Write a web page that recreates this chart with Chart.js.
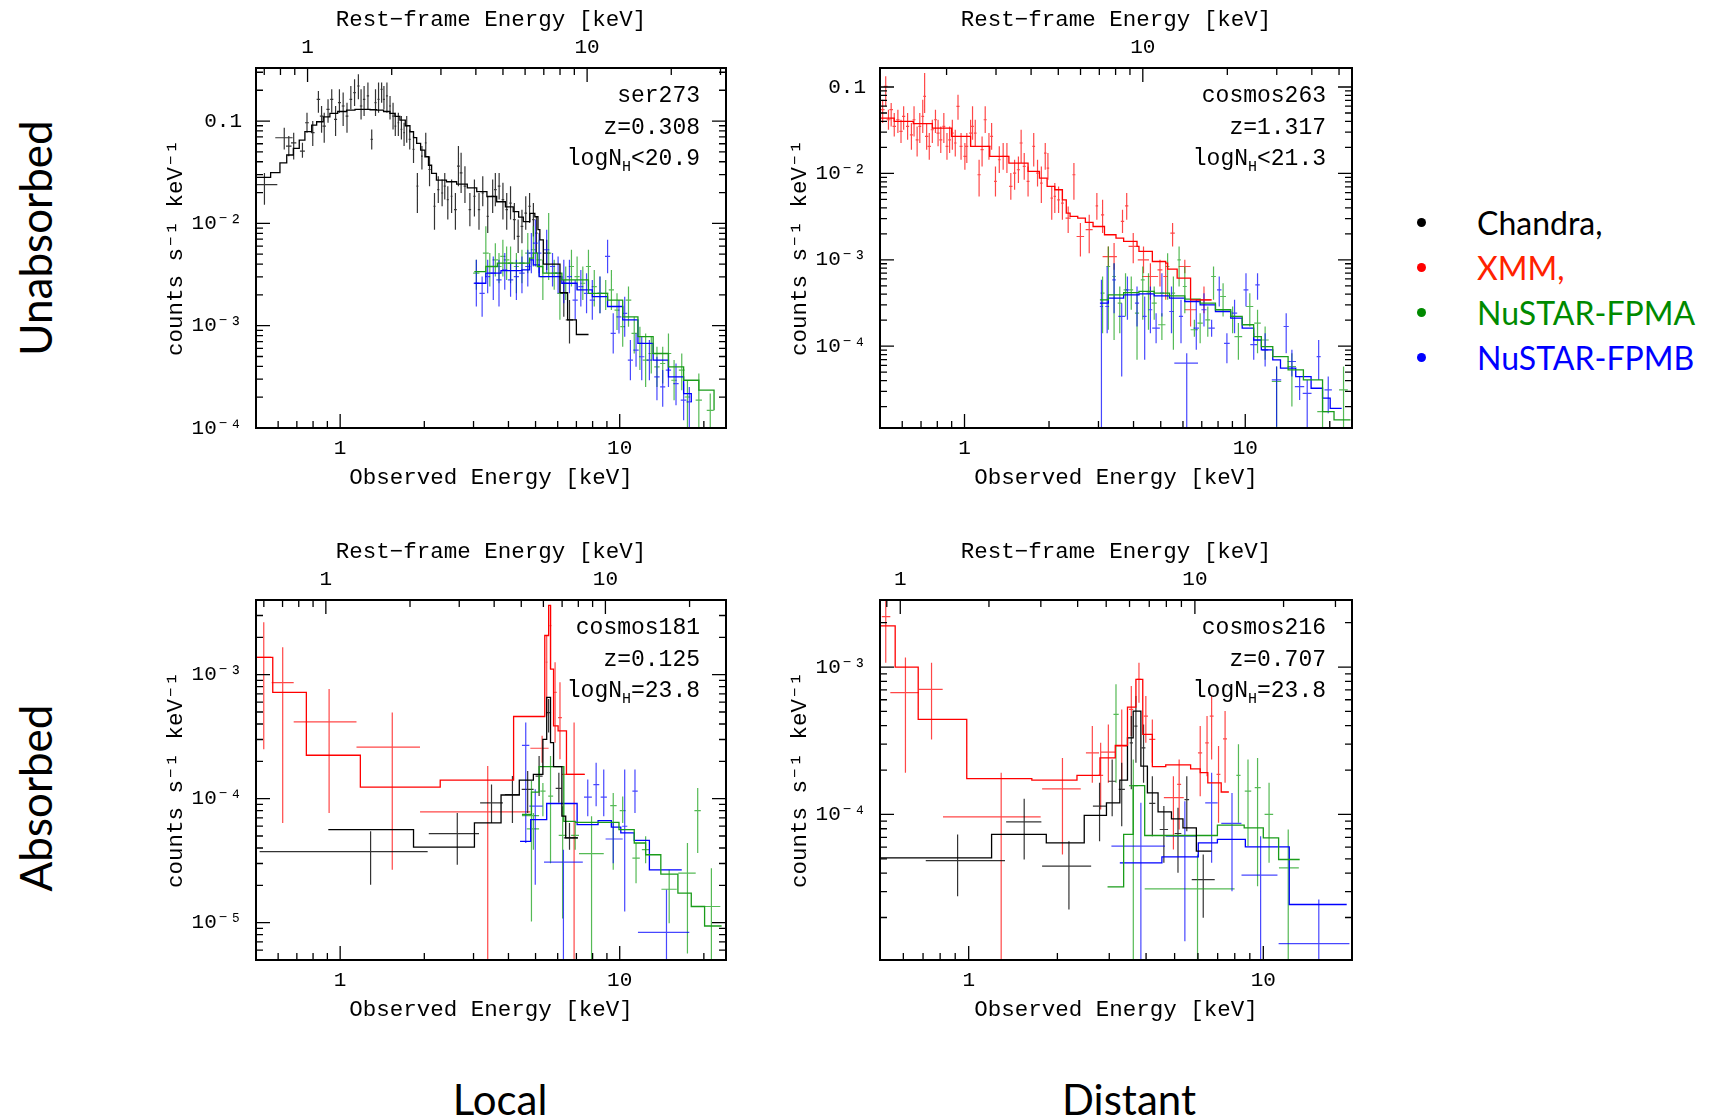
<!DOCTYPE html>
<html>
<head>
<meta charset="utf-8">
<title>X-ray spectra</title>
<script src="https://cdn.jsdelivr.net/npm/chart.js@4.4.1/dist/chart.umd.min.js"></script>
<style>
  body { margin: 0; background: #fff; }
  #page { position: relative; width: 1715px; height: 1120px; overflow: hidden; font-family: Lato, "Open Sans", sans-serif; color: #000; }
  canvas { position: absolute; }
  .row-label { position: absolute; font-size: 44px; white-space: nowrap; transform: translate(-50%, -50%) rotate(-90deg); }
  .col-label { position: absolute; font-size: 42px; white-space: nowrap; transform: translate(-50%, -50%); }
  #legend { position: absolute; left: 1410px; top: 200px; font-size: 32px; }
  #legend div { position: relative; height: 45px; line-height: 45px; padding-left: 67px; white-space: nowrap; }
  #legend span { position: absolute; left: 7px; top: 18px; width: 9px; height: 9px; border-radius: 50%; }
</style>
</head>
<body>
<div id="page">
  <canvas id="p1" width="610" height="498" style="left:146px;top:0px"></canvas>
  <canvas id="p2" width="612" height="498" style="left:770px;top:0px"></canvas>
  <canvas id="p3" width="610" height="498" style="left:146px;top:532px"></canvas>
  <canvas id="p4" width="612" height="498" style="left:770px;top:532px"></canvas>

  <div class="row-label" style="left:35px;top:238px">Unabsorbed</div>
  <div class="row-label" style="left:35px;top:798px">Absorbed</div>
  <div class="col-label" style="left:500px;top:1099px">Local</div>
  <div class="col-label" style="left:1129px;top:1099px">Distant</div>

  <div id="legend">
    <div style="color:#000"><span style="background:#000"></span>Chandra,</div>
    <div style="color:#ff2200"><span style="background:#ff0000"></span>XMM,</div>
    <div style="color:#008a00"><span style="background:#008a00"></span>NuSTAR-FPMA</div>
    <div style="color:#0000ff"><span style="background:#0000ff"></span>NuSTAR-FPMB</div>
  </div>
</div>

<script>
// ---- data ----
// points: [E, dE, counts, low, high] or [E, Elow, Ehigh, counts, low, high]
// models: [bin start E, counts], the last entry closes the last bin

const instruments = ['Chandra', 'XMM', 'NuSTAR-FPMA', 'NuSTAR-FPMB'];
const sourceNames = ['ser273', 'cosmos263', 'cosmos181', 'cosmos216'];
const redshifts = [0.308, 1.317, 0.125, 0.707];
const nhRelations = ['<', '<', '=', '='];
const nhValues = ['20.9', '21.3', '23.8', '23.8'];
const energyRanges = [[0.5, 24], [0.5, 24], [0.5, 24], [0.5, 20]];
const countRanges = [[1e-4, 0.33], [1.13e-5, 0.166], [5e-6, 4e-3], [1.03e-5, 2.85e-3]];
const labelledEnergies = [1, 10];

const ser273Chandra = [
  [0.536,0.06,0.0239,0.0152,0.0311],[0.631,0.045,0.0687,0.0528,0.086],[0.655,0.015,0.0569,0.0454,0.0713],
  [0.682,0.015,0.0613,0.0421,0.0769],[0.733,0.015,0.0508,0.0437,0.0613],[0.761,0.012,0.0963,0.0769,0.1207],
  [0.798,0.012,0.0769,0.0569,0.1],[0.836,0.012,0.1631,0.1207,0.197],[0.858,0.012,0.1119,0.0769,0.1403],
  [0.877,0.012,0.0893,0.0613,0.1207],[0.905,0.012,0.1301,0.0963,0.1631],[0.933,0.012,0.1631,0.1207,0.204],
  [0.963,0.012,0.1038,0.0713,0.1403],[0.994,0.012,0.1513,0.1207,0.204],[1.025,0.012,0.1403,0.0893,0.1896],
  [1.058,0.012,0.1119,0.0769,0.1513],[1.092,0.012,0.1631,0.1301,0.22],[1.126,0.012,0.1896,0.1403,0.256],
  [1.162,0.012,0.22,0.1631,0.287],[1.188,0.012,0.1403,0.1038,0.204],[1.218,0.012,0.1631,0.1119,0.22],
  [1.257,0.012,0.1759,0.1301,0.2375],[1.297,0.012,0.0661,0.0528,0.0829],[1.338,0.012,0.1513,0.1119,0.204],
  [1.372,0.012,0.1631,0.1207,0.2375],[1.407,0.012,0.204,0.1513,0.2375],[1.434,0.012,0.1631,0.1301,0.22],
  [1.47,0.012,0.1759,0.1207,0.2375],[1.508,0.012,0.1403,0.1038,0.1759],[1.546,0.012,0.1119,0.0829,0.1513],
  [1.575,0.012,0.0893,0.0713,0.1207],[1.615,0.012,0.0963,0.0713,0.1207],[1.656,0.012,0.0829,0.0661,0.1119],
  [1.693,0.012,0.0769,0.0569,0.0963],[1.73,0.012,0.0893,0.0613,0.1119],[1.774,0.015,0.0661,0.0528,0.0829],
  [1.83,0.015,0.0528,0.039,0.0713],[1.889,0.015,0.0231,0.0126,0.0311],[1.961,0.015,0.0454,0.0336,0.0569],
  [2.024,0.015,0.0613,0.0454,0.0769],[2.088,0.02,0.0336,0.0231,0.0454],[2.175,0.02,0.0147,0.00867,0.0198],
  [2.244,0.02,0.0214,0.0158,0.0289],[2.316,0.02,0.0198,0.0147,0.0268],[2.367,0.02,0.0231,0.0171,0.0311],
  [2.427,0.02,0.0171,0.0109,0.0231],[2.504,0.02,0.0184,0.0126,0.0268],[2.584,0.03,0.0136,0.00867,0.0198],
  [2.649,0.03,0.0362,0.0231,0.0569],[2.708,0.03,0.0311,0.0198,0.0489],[2.795,0.03,0.0231,0.0158,0.0362],
  [2.911,0.03,0.0136,0.00935,0.0198],[3.022,0.03,0.0184,0.0117,0.0268],[3.138,0.03,0.0136,0.00867,0.0198],
  [3.237,0.03,0.0198,0.0147,0.0289],[3.372,0.03,0.0117,0.00804,0.0184],[3.512,0.04,0.0184,0.0126,0.0268],
  [3.59,0.04,0.0214,0.0147,0.0311],[3.704,0.04,0.0231,0.0171,0.0311],[3.822,0.04,0.0171,0.0109,0.0249],
  [3.943,0.04,0.0136,0.00867,0.0198],[4.069,0.04,0.0158,0.0109,0.0231],[4.199,0.05,0.0109,0.00692,0.0158],
  [4.332,0.05,0.00746,0.00512,0.0109],[4.47,0.05,0.00935,0.00641,0.0136],[4.612,0.05,0.0126,0.00867,0.0184],
  [4.76,0.05,0.0147,0.0101,0.0198],[4.911,0.05,0.0109,0.00746,0.0158],[5.035,0.05,0.00804,0.00512,0.0117],
  [5.481,0.14,0.00512,0.00351,0.00692],[6.31,0.2,0.00207,0.00122,0.0028],[6.613,0.2,0.00114,0.000671,0.00178]
];
const ser273ChandraModel = [
  [0.499,0.0282],[0.564,0.0313],[0.609,0.0391],[0.644,0.0466],[0.68,0.054],[0.714,0.065],[0.748,0.0787],
  [0.791,0.0914],[0.824,0.0984],[0.87,0.11],[0.919,0.119],[0.98,0.124],[1.055,0.128],[1.13,0.13],[1.21,0.13],
  [1.28,0.129],[1.35,0.128],[1.43,0.124],[1.507,0.119],[1.57,0.111],[1.636,0.102],[1.71,0.09],[1.777,0.0786],
  [1.83,0.069],[1.878,0.0605],[1.94,0.052],[2.01,0.0448],[2.07,0.037],[2.124,0.0308],[2.21,0.0265],
  [2.4,0.0255],[2.61,0.0242],[2.85,0.0222],[3.08,0.0204],[3.35,0.0183],[3.63,0.01626],[3.9,0.0145],
  [4.16,0.013],[4.35,0.0115],[4.52,0.0104],[4.77,0.0125],[4.97,0.0116],[5.1,0.0087],[5.18,0.0069],
  [5.33,0.004],[6.114,0.0021],[6.511,0.00114],[6.998,0.00082],[7.735,0.00082]
];
const ser273FPMA = [
  [3.07,0.08,0.00326,0.00224,0.0044],[3.32,0.08,0.00512,0.00302,0.00935],[3.43,0.08,0.00379,0.00241,0.00512],
  [3.59,0.08,0.0044,0.00302,0.00641],[3.7,0.08,0.00379,0.0026,0.00512],[3.82,0.08,0.00475,0.00302,0.00692],
  [3.94,0.09,0.0044,0.0028,0.00595],[4.07,0.09,0.00408,0.0026,0.00595],[4.27,0.09,0.00379,0.00207,0.00512],
  [4.47,0.1,0.00408,0.0026,0.00552],[4.69,0.1,0.00512,0.00326,0.00804],[4.91,0.1,0.00552,0.00379,0.00935],
  [5.15,0.11,0.0044,0.00302,0.00692],[5.31,0.11,0.00302,0.00178,0.0044],[5.57,0.12,0.00512,0.0028,0.0126],
  [5.83,0.12,0.00326,0.00224,0.0044],[6.11,0.13,0.00207,0.00114,0.00302],[6.41,0.14,0.0026,0.00178,0.00379],
  [6.72,0.14,0.00379,0.00241,0.00552],[7.04,0.15,0.00302,0.00224,0.00475],[7.38,0.15,0.0026,0.00178,0.00379],
  [7.73,0.16,0.00379,0.00241,0.00552],[8.11,0.17,0.00241,0.00154,0.00351],[8.5,0.18,0.00207,0.00132,0.00302],
  [8.91,0.19,0.00207,0.00142,0.0028],[9.34,0.2,0.00224,0.00142,0.00351],[9.78,0.2,0.00142,0.000907,0.00207],
  [10.25,0.2,0.000978,0.000622,0.00154],[10.75,0.25,0.00178,0.000978,0.00241],[11.27,0.25,0.000841,0.000535,0.00122],
  [11.81,0.25,0.000671,0.000368,0.000978],[12.38,0.3,0.000461,0.000252,0.000841],[12.97,0.3,0.000535,0.000341,0.00078],
  [13.59,0.3,0.000396,0.000252,0.000622],[14.25,0.3,0.000427,0.000272,0.000622],[14.94,0.35,0.000535,0.000341,0.000841],
  [15.65,0.35,0.000293,0.000187,0.000461],[16.67,0.4,0.000368,0.000234,0.000535],[17.47,0.4,0.000201,0.000102,0.000293],
  [19.19,0.5,0.000187,0.0001,0.000341],[21.08,0.6,0.000149,0.0001,0.000217]
];
const ser273FPMAModel = [
  [3.02,0.00338],[3.32,0.00379],[3.65,0.00408],[4.54,0.00408],[4.76,0.00457],[4.91,0.00512],[5.07,0.00379],
  [5.31,0.00326],[6.21,0.0028],[7.73,0.00207],[9.05,0.00178],[10.25,0.00122],[11.62,0.00078],[13.17,0.000535],
  [14.94,0.000396],[16.93,0.000293],[19.19,0.000234],[21.75,0.000149]
];
const ser273FPMB = [
  [3.07,0.07,0.0026,0.00154,0.0044],[3.22,0.07,0.00207,0.00122,0.00302],[3.37,0.07,0.00302,0.00207,0.0044],
  [3.53,0.08,0.00326,0.00178,0.00475],[3.7,0.08,0.0028,0.00154,0.0044],[3.88,0.08,0.00351,0.00224,0.00512],
  [4.07,0.09,0.0028,0.00192,0.00408],[4.27,0.09,0.00302,0.00178,0.0044],[4.47,0.1,0.00326,0.00207,0.00475],
  [4.69,0.1,0.00379,0.00241,0.00552],[4.83,0.1,0.00512,0.00326,0.00804],[4.99,0.1,0.00641,0.00379,0.0109],
  [5.15,0.1,0.00512,0.00326,0.00804],[5.48,0.12,0.00552,0.00326,0.00867],[5.75,0.12,0.00379,0.00241,0.00512],
  [6.02,0.13,0.00326,0.00207,0.00475],[6.31,0.13,0.0026,0.00166,0.0044],[6.61,0.14,0.00302,0.00207,0.0044],
  [6.93,0.15,0.00178,0.00114,0.0028],[7.26,0.15,0.00241,0.00154,0.00351],[7.61,0.16,0.00207,0.00132,0.00326],
  [7.98,0.17,0.00178,0.00114,0.0028],[8.5,0.18,0.00207,0.00132,0.00302],[9.05,0.19,0.00475,0.00326,0.00692],
  [9.48,0.2,0.000841,0.000535,0.00132],[9.94,0.2,0.00122,0.000841,0.00178],[10.42,0.22,0.00132,0.00078,0.00192],
  [10.92,0.23,0.000461,0.000293,0.000724],[11.44,0.25,0.000577,0.000396,0.000841],[11.99,0.26,0.000497,0.000293,0.00078],
  [12.77,0.28,0.000461,0.000293,0.000724],[13.59,0.3,0.000316,0.000187,0.000497],[14.25,0.3,0.000252,0.000161,0.000368],
  [14.94,0.33,0.000368,0.000252,0.000535],[15.9,0.35,0.000272,0.000167,0.000427],[16.93,0.4,0.000187,0.000119,0.000272],
  [17.74,0.4,0.00018,0.0001,0.000252]
];
const ser273FPMBModel = [
  [3.02,0.0026],[3.32,0.00326],[3.76,0.00346],[4.47,0.00351],[4.76,0.0044],[4.91,0.00393],[5.15,0.00302],
  [6.21,0.0026],[7.04,0.00224],[7.98,0.00192],[9.05,0.00154],[10.25,0.00114],[11.62,0.000671],[13.17,0.000461],
  [14.94,0.000316],[16.93,0.000217],[18.03,0.00018]
];

const cosmos263XMM = [
  [0.511,0.008,0.0546,0.0383,0.0713],[0.524,0.008,0.1018,0.0597,0.1329],[0.536,0.008,0.0418,0.032,0.0546],
  [0.548,0.008,0.0546,0.035,0.0653],[0.562,0.008,0.035,0.0268,0.05],[0.579,0.008,0.0418,0.0293,0.0546],
  [0.594,0.008,0.0307,0.0225,0.0418],[0.607,0.008,0.0457,0.032,0.0597],[0.627,0.008,0.035,0.0245,0.05],
  [0.647,0.008,0.028,0.0188,0.0383],[0.661,0.008,0.0418,0.0268,0.0597],[0.678,0.008,0.0245,0.01574,0.035],
  [0.693,0.008,0.035,0.0225,0.05],[0.71,0.008,0.0457,0.0293,0.0713],[0.721,0.008,0.078,0.05,0.1453],
  [0.733,0.01,0.0268,0.0188,0.0383],[0.749,0.01,0.0206,0.0144,0.0293],[0.768,0.01,0.032,0.0225,0.0418],
  [0.788,0.01,0.0418,0.0293,0.0546],[0.805,0.01,0.0293,0.0206,0.0418],[0.823,0.01,0.0245,0.0172,0.035],
  [0.844,0.01,0.035,0.0225,0.05],[0.866,0.01,0.0206,0.0144,0.0293],[0.885,0.01,0.0245,0.0172,0.035],
  [0.905,0.01,0.0293,0.0188,0.0418],[0.927,0.01,0.0225,0.01574,0.032],[0.948,0.012,0.0597,0.0418,0.0815],
  [0.972,0.012,0.0206,0.0144,0.0293],[1.003,0.012,0.01574,0.01103,0.0225],[1.019,0.012,0.0206,0.01318,0.0293],
  [1.051,0.012,0.0293,0.0206,0.0418],[1.068,0.012,0.035,0.0245,0.0597],[1.092,0.012,0.0293,0.0206,0.0418],
  [1.127,0.015,0.00965,0.00541,0.0144],[1.155,0.015,0.0188,0.01205,0.0268],[1.185,0.015,0.0418,0.0293,0.0597],
  [1.222,0.015,0.0206,0.0144,0.0293],[1.249,0.015,0.0268,0.0188,0.0383],[1.289,0.015,0.00808,0.00541,0.01205],
  [1.33,0.015,0.0144,0.01009,0.0206],[1.373,0.015,0.01574,0.01103,0.0225],[1.416,0.015,0.01574,0.01009,0.0225],
  [1.462,0.02,0.00707,0.00495,0.01009],[1.508,0.02,0.01009,0.00647,0.0144],[1.556,0.02,0.01103,0.00773,0.01574],
  [1.591,0.02,0.0225,0.01318,0.032],[1.632,0.02,0.01205,0.00844,0.0172],[1.684,0.02,0.00808,0.00541,0.01205],
  [1.764,0.02,0.0206,0.01205,0.0293],[1.82,0.02,0.01009,0.00707,0.0144],[1.878,0.02,0.00773,0.00453,0.01205],
  [1.939,0.02,0.0172,0.01103,0.0225],[1.982,0.02,0.01153,0.00844,0.0172],[2.045,0.02,0.00518,0.0029,0.00707],
  [2.097,0.02,0.00541,0.00347,0.00773],[2.163,0.025,0.00495,0.00347,0.00707],[2.232,0.025,0.00453,0.0029,0.00647],
  [2.34,0.05,0.00304,0.00204,0.00415],[2.453,0.03,0.00965,0.00495,0.01318],[2.587,0.08,0.00186,0.00109,0.00266],
  [2.781,0.08,0.00223,0.00119,0.00332],[2.961,0.03,0.00422,0.0029,0.00592],[3.103,0.04,0.00332,0.00204,0.00495],
  [3.253,0.15,0.00109,0.000837,0.00143],[3.41,0.08,0.00109,0.000766,0.00156],[3.654,0.05,0.00278,0.00204,0.0038],
  [3.782,0.05,0.00422,0.0029,0.00592],[3.99,0.15,0.00143,0.000915,0.00204],[4.341,0.2,0.001,0.000701,0.00143],
  [4.594,0.3,0.000641,0.000344,0.000915],[4.969,0.1,0.000766,0.000491,0.001],[5.207,0.1,0.000641,0.000344,0.000915],
  [5.51,0.1,0.00204,0.00143,0.00266],[6.091,0.3,0.000837,0.000701,0.001],[6.386,0.3,0.000264,0.000169,0.000344],
  [7.128,0.45,0.000344,0.000241,0.000491]
];
const cosmos263XMMModel = [
  [0.5,0.0437],[0.5616,0.04],[0.657,0.0376],[0.768,0.0335],[0.899,0.0268],[1.051,0.0206],[1.23,0.01574],
  [1.439,0.01318],[1.684,0.01055],[1.849,0.00883],[1.969,0.00707],[2.097,0.00647],[2.232,0.00495],[2.304,0.00347],
  [2.377,0.00318],[2.531,0.00304],[2.695,0.00271],[2.87,0.00243],[3.152,0.00195],[3.464,0.00178],[3.688,0.00163],
  [4.116,0.00143],[4.182,0.00125],[4.667,0.000956],[5.207,0.000915],[5.29,0.000779],[5.721,0.000613],
  [6.386,0.000344],[7.589,0.000344]
];
const cosmos263FPMA = [
  [3.103,0.05,0.000411,0.000141,0.000641],[3.253,0.05,0.000837,0.000155,0.00143],[3.41,0.05,0.000641,0.000118,0.000915],
  [3.573,0.06,0.000315,0.000141,0.000491],[3.746,0.06,0.000449,0.000221,0.000701],[3.926,0.06,0.000449,0.000264,0.000641],
  [4.116,0.07,0.000241,0.0000695,0.000411],[4.314,0.07,0.000587,0.000202,0.000837],[4.522,0.07,0.000411,0.000155,0.000701],
  [4.739,0.1,0.000315,0.000202,0.000491],[5.047,0.15,0.000177,0.000118,0.000241],[5.29,0.08,0.000837,0.000344,0.00119],
  [5.546,0.08,0.000411,0.0000907,0.000641],[5.812,0.08,0.001,0.000491,0.00143],[6.091,0.1,0.000491,0.000241,0.000837],
  [6.588,0.2,0.000155,0.000129,0.000202],[6.908,0.15,0.000185,0.000108,0.000241],[7.354,0.15,0.000202,0.000129,0.000288],
  [7.709,0.15,0.000641,0.000344,0.000837],[8.337,0.2,0.000376,0.000221,0.000537],[9.016,0.2,0.000221,0.000141,0.000288],
  [9.452,0.3,0.000129,0.0000695,0.000185],[10.38,0.3,0.000288,0.000169,0.000411],[11.06,0.3,0.000185,0.000083,0.000264],
  [11.77,0.35,0.000118,0.0000695,0.000169],[12.93,0.5,0.000039,0.00001,0.0000582],[14.66,0.5,0.0000582,0.00002,0.000083],
  [18.85,0.8,0.0000175,0.00001,0.0000239],[22.39,0.8,0.0000312,0.00001,0.0000582]
];
const cosmos263FPMAModel = [
  [3.036,0.000344],[3.253,0.000393],[3.688,0.000418],[4.182,0.00043],[4.739,0.000411],[5.373,0.000383],
  [6.091,0.00035],[6.908,0.000315],[7.831,0.000264],[8.876,0.000221],[9.752,0.000177],[10.715,0.000129],
  [11.41,0.0000991],[12.53,0.0000759],[14.21,0.0000532],[16.11,0.0000407],[18.85,0.0000175],[20.71,0.000014],
  [23.7,0.000014]
];
const cosmos263FPMB = [
  [3.074,0.04,0.000288,0.00001,0.000587],[3.222,0.05,0.000288,0.000141,0.000837],[3.41,0.05,0.000587,0.000241,0.000915],
  [3.63,0.1,0.000221,0.0000445,0.000315],[3.805,0.06,0.000449,0.000202,0.000641],[4.116,0.07,0.000315,0.000169,0.000491],
  [4.383,0.07,0.000221,0.0000695,0.000376],[4.594,0.07,0.000264,0.000141,0.000491],[4.813,0.15,0.000162,0.000108,0.000241],
  [5.047,0.08,0.000411,0.000221,0.000701],[5.46,0.1,0.000252,0.000141,0.000491],[5.904,0.1,0.000221,0.000108,0.000344],
  [6.188,0.6,0.0000636,0.00001,0.000083],[6.692,0.15,0.000162,0.0000907,0.000344],[7.128,0.15,0.000264,0.000169,0.000411],
  [7.589,0.2,0.000162,0.000129,0.000202],[8.079,0.15,0.000449,0.000288,0.000641],[8.603,0.2,0.000108,0.0000636,0.000141],
  [9.16,0.2,0.000241,0.000141,0.000344],[10.06,0.2,0.000449,0.000288,0.000701],[10.72,0.3,0.000104,0.0000695,0.000141],
  [11.06,0.2,0.000513,0.000344,0.000701],[11.77,0.3,0.0000907,0.0000582,0.000141],[12.93,0.5,0.0000407,0.0000117,0.0000582],
  [13.99,0.3,0.000169,0.000083,0.000241],[14.66,0.5,0.0000665,0.0000445,0.0000907],[15.62,0.6,0.0000341,0.0000239,0.0000445],
  [16.62,0.6,0.0000285,0.00001,0.0000407],[18.26,0.3,0.0000759,0.0000407,0.000118],[19.75,0.6,0.0000312,0.0000167,0.0000445]
];
const cosmos263FPMBModel = [
  [3.036,0.000315],[3.253,0.00036],[3.688,0.000393],[4.182,0.000404],[4.739,0.000383],[5.373,0.00036],
  [6.091,0.000329],[6.908,0.000301],[7.831,0.000252],[8.876,0.000211],[9.752,0.000162],[10.715,0.000118],
  [11.41,0.0000907],[12.53,0.0000695],[13.35,0.0000556],[15.13,0.0000445],[17.16,0.0000326],[18.85,0.000025],
  [20.07,0.0000191],[22.05,0.0000191]
];

const cosmos181Chandra = [
  [1.285,0.515,2.056,0.0000374,0.0000202,0.0000546],[2.624,2.075,3.138,0.0000523,0.0000293,0.0000768],
  [3.479,3.167,3.822,0.0000925,0.0000637,0.00013],[4.133,3.883,4.4,0.000108,0.0000637,0.000152],
  [4.686,4.46,4.92,0.000119,0.0000768,0.000167],[5.148,5.0,5.3,0.000152,0.000105,0.000221],
  [5.568,5.45,5.68,0.000495,0.000341,0.000635],[6.058,5.9,6.2,0.000121,0.0000925,0.000162],
  [6.613,6.31,7.085,0.0000482,0.0000388,0.0000637]
];
const cosmos181ChandraModel = [
  [0.907,0.0000563],[1.83,0.0000407],[3.022,0.0000637],[3.763,0.000107],[4.373,0.000141],[4.911,0.000157],
  [5.311,0.000301],[5.481,0.000655],[5.656,0.000283],[5.799,0.000181],[6.211,0.0000722],[6.41,0.0000482],
  [7.085,0.0000482]
];
const cosmos181XMM = [
  [0.533,0.499,0.566,0.00138,0.00025,0.00265],[0.623,0.569,0.682,0.000861,0.0000637,0.00166],
  [0.913,0.682,1.144,0.000416,0.0000768,0.000765],[1.536,1.144,1.931,0.00026,0.0000267,0.000495],
  [3.372,1.931,4.79,0.0000782,0.000001,0.000183],[5.277,4.79,5.568,0.000255,0.000195,0.000321],
  [5.481,5.44,5.52,0.00126,0.000466,0.00207],[5.656,5.61,5.7,0.00249,0.00111,0.00362],
  [5.872,5.8,5.95,0.000719,0.000283,0.00126],[6.114,6.02,6.21,0.000451,0.000208,0.000867],
  [6.868,6.211,7.495,0.000157,0.000001,0.000411]
];
const cosmos181XMMModel = [
  [0.499,0.00138],[0.574,0.000719],[0.757,0.000224],[1.181,0.000124],[2.28,0.000141],[4.173,0.00046],
  [5.395,0.00207],[5.568,0.00362],[5.656,0.00111],[5.799,0.000386],[6.02,0.000352],[6.45,0.000157],[7.495,0.000157]
];
const cosmos181FPMA = [
  [4.834,4.47,5.148,0.0000731,0.0000102,0.000139],[4.911,4.65,5.148,0.000057,0.0000388,0.0000768],
  [5.311,5.2,5.43,0.000115,0.0000722,0.000134],[5.656,5.55,5.78,0.000105,0.0000302,0.000221],
  [6.25,6.05,6.45,0.0000506,0.0000108,0.000087],[6.93,6.7,7.15,0.0000506,0.0000388,0.0000637],
  [7.93,7.152,8.768,0.000036,0.000001,0.0000722],[9.48,9.25,9.75,0.000088,0.0000267,0.000111],
  [10.25,10.0,10.5,0.0000802,0.0000637,0.000104],[11.44,11.1,11.8,0.0000332,0.0000208,0.0000439],
  [12.38,12.0,12.8,0.0000388,0.0000302,0.0000497],[15.03,14.1,16.0,0.0000186,0.0000099,0.0000267],
  [17.47,16.2,18.7,0.0000251,0.00000565,0.0000439],[19.01,18.5,19.5,0.0000802,0.0000364,0.000122],
  [21.28,19.8,22.9,0.0000135,0.000001,0.0000275]
];
const cosmos181FPMAModel = [
  [4.47,0.0000745],[4.834,0.000113],[5.148,0.000181],[6.31,0.0000657],[6.93,0.0000645],[9.94,0.0000563],
  [11.27,0.0000439],[12.38,0.0000353],[14.03,0.0000246],[16.15,0.0000173],[18.03,0.0000135],[20.12,0.0000094],
  [23.15,0.0000094]
];
const cosmos181FPMB = [
  [4.612,4.47,4.75,0.000269,0.0000439,0.000411],[4.988,4.75,5.3,0.000087,0.0000202,0.000119],
  [6.29,5.361,7.379,0.0000308,0.000001,0.0000388],[7.686,7.45,7.95,0.000103,0.0000722,0.000143],
  [8.235,8.05,8.45,0.00013,0.000087,0.000195],[8.768,8.55,9.0,0.000103,0.0000722,0.000172],
  [9.48,8.9,10.25,0.0000473,0.0000302,0.0000637],[10.42,10.2,10.65,0.0000599,0.0000123,0.000172],
  [11.34,11.1,11.6,0.000115,0.0000768,0.000172],[14.7,11.62,17.74,0.00000835,0.000001,0.0000184]
];
const cosmos181FPMBModel = [
  [4.4,0.0000453],[4.804,0.0000678],[5.481,0.0000914],[7.041,0.0000618],[8.366,0.0000665],[9.335,0.000059],
  [10.09,0.0000529],[11.27,0.0000461],[12.77,0.0000267],[16.67,0.0000267]
];

const cosmos216Chandra = [
  [0.917,0.715,1.328,0.0000487,0.0000279,0.0000732],[1.543,1.34,1.765,0.0000892,0.0000495,0.000128],
  [2.189,1.775,2.604,0.0000446,0.0000227,0.0000659],[2.781,2.64,2.93,0.000114,0.0000659,0.000164],
  [3.069,2.98,3.16,0.000168,0.0000974,0.000236],[3.307,3.23,3.39,0.000148,0.0000833,0.000224],
  [3.564,3.52,3.61,0.000306,0.000148,0.000465],[3.695,3.65,3.74,0.000398,0.000224,0.000636],
  [3.922,3.86,3.98,0.000283,0.000164,0.000408],[4.201,4.1,4.3,0.000119,0.0000713,0.000182],
  [4.597,4.45,4.75,0.0000791,0.000047,0.000114],[5.133,5.0,5.27,0.0000743,0.0000402,0.000111],
  [5.499,5.4,5.6,0.000126,0.000077,0.000182],[6.253,5.716,6.841,0.0000362,0.0000199,0.0000535]
];
const cosmos216ChandraModel = [
  [0.5,0.0000508],[1.196,0.0000732],[1.834,0.0000642],[2.467,0.0000985],[2.935,0.00012],[3.258,0.000171],
  [3.459,0.000331],[3.617,0.000503],[3.841,0.000213],[4.042,0.00014],[4.393,0.000104],[4.878,0.0000935],
  [5.337,0.0000812],[5.926,0.0000564],[6.677,0.0000564]
];
const cosmos216XMM = [
  [0.523,0.507,0.542,0.0022,0.00107,0.00281],[0.61,0.542,0.678,0.00067,0.000192,0.00116],
  [0.748,0.678,0.816,0.000705,0.000323,0.00107],[1.289,0.818,1.755,0.0000964,0.000001,0.000192],
  [2.081,1.775,2.401,0.000149,0.0000535,0.000242],[2.628,2.5,2.77,0.000262,0.000164,0.000398],
  [2.805,2.75,2.86,0.000184,0.000108,0.000306],[2.979,2.81,3.14,0.000265,0.000164,0.000408],
  [3.307,3.144,3.459,0.000291,0.000173,0.000516],[3.564,3.5,3.62,0.000516,0.00034,0.000743],
  [3.784,3.72,3.85,0.000825,0.000573,0.00107],[3.993,3.93,4.06,0.000465,0.000306,0.000636],
  [4.201,4.1,4.3,0.000323,0.000224,0.000441],[4.953,4.597,5.369,0.00013,0.0000579,0.000182],
  [5.18,5.1,5.26,0.00016,0.0000791,0.000236],[6.107,6.0,6.2,0.000262,0.000133,0.000398],
  [6.442,6.35,6.53,0.000306,0.000182,0.000465],[6.677,6.58,6.78,0.000465,0.000236,0.000636],
  [7.047,6.94,7.15,0.000187,0.0000878,0.000291],[7.417,7.3,7.53,0.000326,0.000164,0.000503]
];
const cosmos216XMMModel = [
  [0.5,0.0019],[0.563,0.001],[0.674,0.000441],[0.985,0.000175],[1.638,0.000171],[2.331,0.000184],
  [2.79,0.000242],[3.144,0.000294],[3.459,0.000535],[3.695,0.000825],[3.898,0.000349],[4.201,0.000211],
  [4.665,0.000217],[5.666,0.000204],[6.107,0.000192],[6.481,0.000164],[7.196,0.000142],[7.64,0.000142]
];
const cosmos216FPMA = [
  [3.162,3.1,3.23,0.000477,0.000164,0.000763],[3.62,3.5,3.75,0.000157,0.000001,0.000236],
  [5.98,3.957,7.99,0.0000313,0.000001,0.0000535],[8.235,8.1,8.37,0.000184,0.0000878,0.000299],
  [8.872,8.65,9.1,0.000144,0.000061,0.000236],[9.561,9.35,9.8,0.000152,0.0000326,0.000242],
  [10.46,10.1,10.8,0.0001,0.000047,0.000164],[12.15,11.3,13.2,0.0000434,0.000001,0.0000791]
];
const cosmos216FPMAModel = [
  [2.96,0.0000323],[3.357,0.0000732],[3.617,0.000157],[3.957,0.000072],[6.985,0.0000846],[8.612,0.0000812],
  [10.0,0.0000694],[11.27,0.0000495],[13.29,0.0000495]
];
const cosmos216FPMB = [
  [3.841,3.051,4.638,0.000061,0.000001,0.00012],[5.417,4.665,5.926,0.0000713,0.0000138,0.000123],
  [6.677,6.35,7.0,0.00012,0.000047,0.000192],[7.829,7.2,8.43,0.0000869,0.0000302,0.00014],
  [9.792,8.433,11.17,0.0000388,0.000001,0.0000713],[15.43,11.27,19.6,0.0000133,0.000001,0.0000265]
];
const cosmos216FPMBModel = [
  [3.258,0.000047],[4.527,0.0000516],[6.015,0.0000642],[6.985,0.0000677],[8.69,0.0000603],[12.25,0.0000245],
  [19.19,0.0000245]
];

// [instrument index, points, model] per panel
const panelSpectra = [
  [[0, ser273Chandra, ser273ChandraModel], [2, ser273FPMA, ser273FPMAModel], [3, ser273FPMB, ser273FPMBModel]],
  [[1, cosmos263XMM, cosmos263XMMModel], [2, cosmos263FPMA, cosmos263FPMAModel], [3, cosmos263FPMB, cosmos263FPMBModel]],
  [[1, cosmos181XMM, cosmos181XMMModel], [0, cosmos181Chandra, cosmos181ChandraModel], [2, cosmos181FPMA, cosmos181FPMAModel], [3, cosmos181FPMB, cosmos181FPMBModel]],
  [[1, cosmos216XMM, cosmos216XMMModel], [0, cosmos216Chandra, cosmos216ChandraModel], [2, cosmos216FPMA, cosmos216FPMAModel], [3, cosmos216FPMB, cosmos216FPMBModel]]
];

// ---- styling ----
const lineColors = ['#000000', '#ff0000', '#1a9c1a', '#0000ff'];
const barColors = ['rgba(0,0,0,0.8)', 'rgba(255,0,0,0.72)', 'rgba(20,160,20,0.72)', 'rgba(0,0,255,0.72)'];
const plotFont = "'Liberation Mono', 'DejaVu Sans Mono', monospace";

Chart.defaults.font.family = plotFont;
Chart.defaults.color = '#000';

const supMap = { '-': '\u207b', '0': '\u2070', '1': '\u00b9', '2': '\u00b2', '3': '\u00b3', '4': '\u2074', '5': '\u2075', '6': '\u2076' };
const sup = s => String(s).split('').map(c => supMap[c] || c).join('');
const isDecade = v => { const l = Math.log10(v); return Math.abs(l - Math.round(l)) < 1e-6; };

function energyLabel(v) {
  return labelledEnergies.some(e => Math.abs(v - e) < 1e-6 * e) ? String(Math.round(v)) : '';
}
function countLabel(v) {
  if (!isDecade(v)) return '';
  const e = Math.round(Math.log10(v));
  return e === -1 ? '0.1' : '10' + sup(e);
}

function toCross(p) {
  if (p.length === 5) {
    const [x, dx, y, yl, yh] = p;
    return { x, y, xl: x - dx, xh: x + dx, yl, yh };
  }
  const [x, xl, xh, y, yl, yh] = p;
  return { x, y, xl, xh, yl, yh };
}

// error crosses from the scatter datasets, under the model lines
const errorCrosses = {
  id: 'errorCrosses',
  beforeDatasetsDraw(chart) {
    const { ctx, chartArea: a, scales: { x, y } } = chart;
    ctx.save();
    ctx.beginPath();
    ctx.rect(a.left, a.top, a.width, a.height);
    ctx.clip();
    ctx.lineWidth = 1.2;
    chart.data.datasets.forEach((ds, i) => {
      if (!ds.crossColor) return;
      const meta = chart.getDatasetMeta(i);
      ctx.strokeStyle = ds.crossColor;
      ctx.beginPath();
      ds.data.forEach((p, j) => {
        const el = meta.data[j];
        ctx.moveTo(x.getPixelForValue(p.xl), el.y);
        ctx.lineTo(x.getPixelForValue(p.xh), el.y);
        ctx.moveTo(el.x, y.getPixelForValue(p.yh));
        ctx.lineTo(el.x, y.getPixelForValue(p.yl));
      });
      ctx.stroke();
    });
    ctx.restore();
  }
};

// box and inward ticks on all four sides
const frameTicks = {
  id: 'frameTicks',
  afterDraw(chart) {
    const { ctx, chartArea: a, scales } = chart;
    const logTicks = (min, max) => {
      const out = [];
      for (let e = Math.floor(Math.log10(min)); e <= Math.ceil(Math.log10(max)); e++) {
        for (let m = 1; m < 10; m++) {
          const v = m * Math.pow(10, e);
          if (v >= min * 0.9999 && v <= max * 1.0001) out.push({ v, major: m === 1 });
        }
      }
      return out;
    };
    ctx.save();
    ctx.strokeStyle = '#000';
    ctx.lineWidth = 1.3;
    ctx.beginPath();
    logTicks(scales.x.min, scales.x.max).forEach(t => {
      const px = scales.x.getPixelForValue(t.v), L = t.major ? 14 : 7;
      ctx.moveTo(px, a.bottom); ctx.lineTo(px, a.bottom - L);
    });
    logTicks(scales.x2.min, scales.x2.max).forEach(t => {
      const px = scales.x2.getPixelForValue(t.v), L = t.major ? 14 : 7;
      ctx.moveTo(px, a.top); ctx.lineTo(px, a.top + L);
    });
    logTicks(scales.y.min, scales.y.max).forEach(t => {
      const py = scales.y.getPixelForValue(t.v), L = t.major ? 14 : 7;
      ctx.moveTo(a.left, py); ctx.lineTo(a.left + L, py);
      ctx.moveTo(a.right, py); ctx.lineTo(a.right - L, py);
    });
    ctx.stroke();
    ctx.lineWidth = 2;
    ctx.strokeRect(a.left, a.top, a.width, a.height);
    ctx.restore();
  }
};

// source name, redshift and column density in the corner
const sourceLabel = {
  id: 'sourceLabel',
  afterDraw(chart, args, opts) {
    const { ctx, chartArea: a } = chart;
    const right = a.right - 26;
    const big = '23px ' + plotFont, small = '15px ' + plotFont;
    ctx.save();
    ctx.fillStyle = '#000';
    ctx.textBaseline = 'middle';
    ctx.textAlign = 'right';
    ctx.font = big;
    ctx.fillText(opts.name, right, a.top + 28);
    ctx.fillText('z=' + opts.z.toFixed(3), right, a.top + 60);
    const tail = opts.rel + opts.nh;
    const wLog = ctx.measureText('logN').width, wTail = ctx.measureText(tail).width;
    ctx.font = small;
    const wH = ctx.measureText('H').width;
    const x0 = right - wTail - wH - wLog, y3 = a.top + 91;
    ctx.textAlign = 'left';
    ctx.font = big; ctx.fillText('logN', x0, y3);
    ctx.font = small; ctx.fillText('H', x0 + wLog, y3 + 8);
    ctx.font = big; ctx.fillText(tail, x0 + wLog + wH, y3);
    ctx.restore();
  }
};

function makeDatasets(spectra) {
  const sets = [];
  spectra.forEach(([inst, points, model]) => {
    sets.push({
      type: 'scatter', label: instruments[inst], data: points.map(toCross),
      pointRadius: 0, showLine: false, crossColor: barColors[inst], order: 2
    });
    sets.push({
      type: 'line', label: instruments[inst] + ' model', data: model.map(([x, y]) => ({ x, y })),
      stepped: 'before', borderColor: lineColors[inst], borderWidth: 1.3, pointRadius: 0,
      fill: false, order: 1
    });
  });
  return sets;
}

['p1', 'p2', 'p3', 'p4'].forEach((id, i) => {
  const z = redshifts[i];
  const [xMin, xMax] = energyRanges[i];
  const [yMin, yMax] = countRanges[i];
  const tickFont = { size: 21 };
  const titleFont = { size: 22.5 };
  new Chart(document.getElementById(id), {
    data: { datasets: makeDatasets(panelSpectra[i]) },
    plugins: [errorCrosses, frameTicks, sourceLabel],
    options: {
      responsive: false,
      animation: false,
      devicePixelRatio: 1,
      events: [],
      layout: { padding: { left: 0, right: 30, top: 0, bottom: 0 } },
      plugins: {
        legend: { display: false },
        tooltip: { enabled: false },
        sourceLabel: { name: sourceNames[i], z: z, rel: nhRelations[i], nh: nhValues[i] }
      },
      scales: {
        x: {
          type: 'logarithmic', position: 'bottom', min: xMin, max: xMax,
          grid: { display: false, drawTicks: false }, border: { display: false },
          ticks: { autoSkip: false, maxRotation: 0, padding: 8, font: tickFont, color: '#000', callback: energyLabel },
          title: { display: true, text: 'Observed Energy [keV]', font: titleFont, color: '#000', padding: { top: 0, bottom: 6 } },
          afterFit: s => { s.height = 70; }
        },
        x2: {
          type: 'logarithmic', position: 'top', min: xMin * (1 + z), max: xMax * (1 + z),
          grid: { display: false, drawTicks: false }, border: { display: false },
          ticks: { autoSkip: false, maxRotation: 0, padding: 8, font: tickFont, color: '#000', callback: energyLabel },
          title: { display: true, text: 'Rest\u2212frame Energy [keV]', font: titleFont, color: '#000', padding: { top: 7, bottom: 0 } },
          afterFit: s => { s.height = 68; }
        },
        y: {
          type: 'logarithmic', position: 'left', min: yMin, max: yMax,
          grid: { display: false, drawTicks: false }, border: { display: false },
          ticks: { autoSkip: false, padding: 14, font: tickFont, color: '#000', callback: countLabel },
          title: { display: true, text: 'counts s\u207b\u00b9 keV\u207b\u00b9', font: titleFont, color: '#000', padding: { top: 17, bottom: 0 } },
          afterFit: s => { s.width = 110; }
        }
      }
    }
  });
});
</script>
</body>
</html>
